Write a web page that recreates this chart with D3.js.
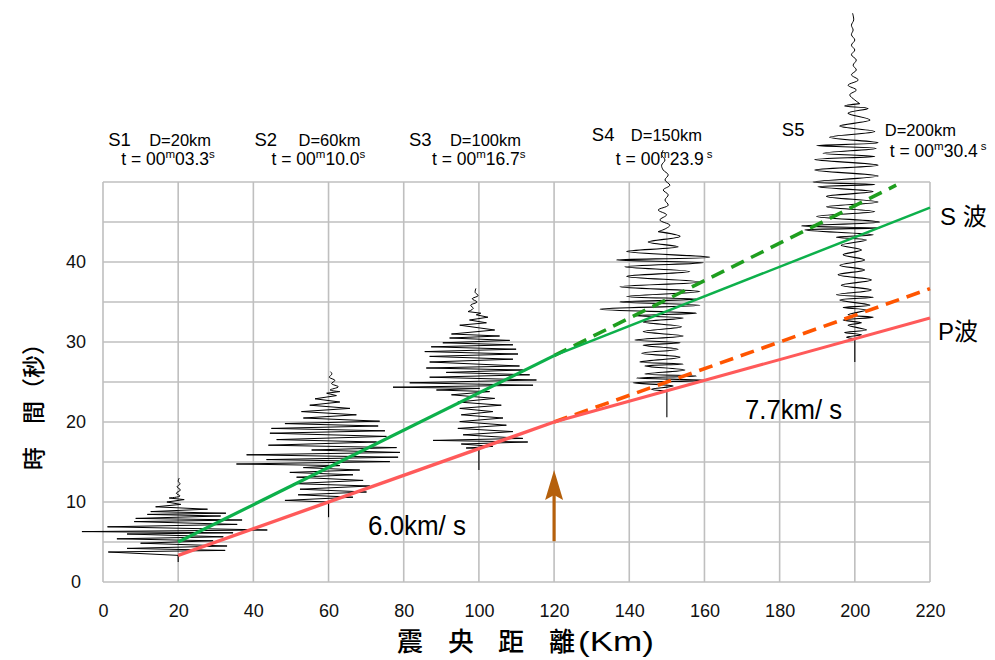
<!DOCTYPE html>
<html><head><meta charset="utf-8">
<script src="https://cdn.jsdelivr.net/npm/d3@7/dist/d3.min.js"></script>
<style>body{margin:0;background:#fff;}svg{display:block;}</style>
</head><body><svg id="c" width="995" height="660"></svg>
<script>
// ---------------- data ----------------
const xTicks = [0,20,40,60,80,100,120,140,160,180,200,220];
const yTicks = [0,10,20,30,40];
const stations = ["S1","S2","S3","S4","S5"];
const distances = [20,60,100,150,200];
const distLabels = ["D=20km","D=60km","D=100km","D=150km","D=200km"];
const arrivalLabels = ["03.3","10.0","16.7","23.9","30.4"];
const pArrival = [3.33,10.0,16.7,23.9,30.4];
const tailStart = [2.5,8.1,14.0,20.6,27.5];

const pDirect    = [[20,3.33],[120,20.0]];
const pDirectExt = [[120,20.0],[220,36.67]];
const pRefract   = [[120,20.0],[220,33.0]];
const sDirect    = [[20,5.0],[120,28.3]];
const sDirectExt = [[120,28.3],[211,49.6]];
const sRefract   = [[120,28.3],[220,46.8]];
const arrowPos   = [120,5.1,14.0];

// seismogram peaks: [time s, horizontal offset km]
const s1Peaks = [[3.75,-18.6],[3.95,12.5],[4.2,-13.6],[4.5,13],[4.85,-10],[5.15,9.3],[5.4,-16.3],[5.65,12],[6.0,-13.6],[6.15,14.6],[6.3,-25.6],[6.5,23.7],[6.9,-18.8],[7.2,15.7],[7.55,-11.7],[7.75,17],[7.95,-11.3],[8.25,11.3],[8.45,-8.2],[8.6,12.7],[8.8,-7.3],[9.1,7.8],[9.4,-6],[9.7,0.7],[10.0,-3],[10.3,1.6],[10.5,-2.4]];
const s1Coda = [[10.75,0.5],[11.1,-0.5],[11.5,0.6],[11.9,-0.3],[12.25,0.5],[12.6,0],[13.0,0.3]];

const s2Peaks = [[10.2,-11.6],[10.6,6.5],[10.9,-8.1],[11.25,10.1],[11.6,-7.6],[12.0,11.0],[12.3,-9.4],[12.7,9.2],[13.1,-8.5],[13.4,6.5],[13.7,-10.3],[14.0,8.3],[14.3,-6.7],[14.55,3.0],[14.75,-24.5],[15.05,16.3],[15.3,-16.5],[15.6,18.5],[15.9,-21.8],[16.2,19.0],[16.5,-4.5],[16.8,18.1],[17.1,-16.0],[17.5,12.8],[17.8,-13.8],[18.2,15.4],[18.6,-15.6],[18.9,15.0],[19.2,-15.2],[19.5,13.2],[19.8,-11.6],[20.1,13.6],[20.5,-6.7],[20.9,7.4],[21.3,-7.2],[21.7,5.7],[22.1,-5.0],[22.5,3.0],[22.9,-3.6],[23.3,2.1],[23.6,-0.5],[23.8,3.0]];
const s2Coda = [[24.0,0.4],[24.4,2.6],[24.8,0.8],[25.2,1.7],[25.6,0.2],[26.0,0.9],[26.3,0.5]];

const s3Peaks = [[16.75,-3.4],[16.95,3.7],[17.25,-4.7],[17.5,13.0],[17.7,-12.2],[17.95,11.7],[18.4,-4.2],[18.8,9.05],[19.2,-5.6],[19.6,7.3],[20.05,-5.1],[20.5,6.4],[20.9,-4.7],[21.3,3.7],[21.7,-5.1],[22.1,5.95],[22.5,-5.6],[22.95,4.2],[23.4,-7.3],[23.8,2.85],[24.0,-11.3],[24.2,0.2],[24.35,-22.85],[24.6,14.4],[24.9,-18.4],[25.25,15.3],[25.6,-13.1],[25.9,13.5],[26.2,-8.7],[26.5,11.7],[26.75,-14.0],[27.0,10.8],[27.5,-13.1],[27.85,9.05],[28.2,-13.1],[28.5,10.4],[28.8,-14.4],[29.1,9.9],[29.4,-12.7],[29.65,9.05],[29.9,-9.6],[30.2,8.2],[30.5,-7.8],[30.75,5.5],[31.0,-7.3],[31.5,4.2],[32.1,-5.1],[32.4,2.0],[32.75,-2.5],[33.1,2.4],[33.4,-0.7],[33.6,0.5],[33.8,-2.9]];
const s3Coda = [[34.2,-1.5],[34.6,-2.2],[35.0,-0.5],[35.4,-1.8],[35.8,-0.2],[36.2,-1.0],[36.7,-0.8]];

const s4Peaks = [[24.1,-4.1],[24.5,1.7],[24.9,-8.95],[25.2,10.1],[25.5,-8.1],[25.75,7.9],[26.0,-5.85],[26.5,4.8],[27.0,-5.85],[27.25,4.35],[27.5,-7.2],[28.1,3.5],[28.6,-6.7],[29.1,3.0],[29.6,-6.3],[29.9,3.5],[30.25,-8.5],[30.75,4.35],[31.3,-6.3],[31.9,3.9],[32.5,-6.3],[33.0,4.35],[33.3,-8.95],[33.6,7.9],[34.1,-17.8],[34.6,8.8],[35.0,-12.5],[35.35,7.9],[35.7,-10.7],[36.3,8.8],[36.9,-12.5],[37.5,8.8],[38.2,-10.7],[38.8,6.1],[39.4,-11.2],[39.9,9.7],[40.25,-13.4],[40.6,11.4],[41.3,-10.7],[41.9,3.0],[42.5,-4.96],[43.2,3.5],[43.8,-2.3]];
const s4Coda = [[44.2,-0.2],[44.6,0.8],[45.25,-1.86],[45.9,-0.08],[46.5,-2.3],[47.1,0.36],[47.75,-0.5],[48.4,0.36],[49.0,-0.97],[49.6,0.8],[50.25,-0.5],[50.9,0.36],[51.5,-0.97],[52.1,-1.4],[52.75,-0.5],[53.4,-1.4],[54.0,-0.97]];

const s5Peaks = [[30.6,-2.2],[30.9,1.75],[31.2,-2.7],[31.5,3.1],[32.1,-1.8],[32.4,1.75],[32.75,-3.1],[33.1,4.9],[33.4,-1.8],[34.0,3.1],[34.3,-3.1],[34.6,4.0],[35.25,-4.0],[35.6,4.9],[35.9,-4.9],[36.5,4.4],[37.1,-3.6],[37.75,4.4],[38.4,-4.46],[39.0,2.6],[39.6,-4.0],[40.25,2.6],[40.9,-3.1],[41.5,1.75],[42.1,-3.6],[42.75,3.1],[43.1,-4.9],[43.4,4.9],[44.0,-13.3],[44.25,6.6],[44.5,-14.2],[45.0,6.6],[45.7,-10.2],[46.3,5.3],[46.9,-7.56],[47.5,6.2],[48.2,-7.56],[48.8,4.9],[49.4,-9.8],[49.7,5.3],[50.0,-11.1],[50.75,6.2],[51.5,-10.7],[52.1,6.2],[52.8,-10.7],[53.2,5.3],[53.6,-8.45],[54.2,5.7],[54.55,-10.2],[54.9,6.2],[55.6,-6.7],[56.3,5.3],[57.0,-4.0],[57.75,4.0],[58.6,-1.8],[59.2,3.5],[59.5,-2.7],[59.8,1.3]];
const s5Coda = [[60.25,0],[60.9,-1.35],[61.5,0.4],[62.1,-1.8],[62.75,0.9],[63.4,-0.9],[64.0,0.4],[64.6,-0.45],[65.25,0.4],[65.9,-0.9],[66.5,0],[67.1,-0.9],[67.75,0],[68.4,-0.9],[69.0,-0.45],[69.6,-0.9],[70.25,-0.3],[71.1,-0.6]];

const peaks = [s1Peaks,s2Peaks,s3Peaks,s4Peaks,s5Peaks];
const codas = [s1Coda,s2Coda,s3Coda,s4Coda,s5Coda];
const smoothTrace = [false,false,false,true,true];

// ---------------- drawing ----------------
const svg = d3.select("#c");
const m = {l:103, r:930, t:182, b:582};
const x = d3.scaleLinear().domain([0,220]).range([m.l,m.r]);
const y = d3.scaleLinear().domain([0,50]).range([m.b,m.t]);
const latin = "'Liberation Sans', Arial, sans-serif";
const cjk = "'Liberation Sans','Noto Sans CJK TC','Noto Sans CJK JP',sans-serif";
const cjkOnly = "'Noto Sans CJK TC','Noto Sans CJK JP',sans-serif";

// grid
const grid = svg.append("g").attr("stroke","#bfbfbf").attr("stroke-width",1.6);
grid.selectAll("line.v").data(xTicks).join("line").attr("class","v")
  .attr("x1",d=>x(d)).attr("x2",d=>x(d)).attr("y1",y(0)).attr("y2",y(50));
grid.selectAll("line.h").data(d3.range(0,51,5)).join("line").attr("class","h")
  .attr("y1",d=>y(d)).attr("y2",d=>y(d)).attr("x1",x(0)).attr("x2",x(220));

// axes tick labels
const xAxis = d3.axisBottom(x).tickValues(xTicks).tickSize(0).tickPadding(22);
const gx = svg.append("g").attr("transform",`translate(0,${y(0)})`).call(xAxis);
gx.select(".domain").remove();
gx.selectAll("text").attr("font-family",latin).attr("font-size",18).attr("fill","#111");
const yAxis = d3.axisLeft(y).tickValues(yTicks).tickSize(0).tickPadding(27);
const gy = svg.append("g").attr("transform",`translate(${x(0)},0)`).call(yAxis);
gy.select(".domain").remove();
gy.selectAll("text").attr("font-family",latin).attr("font-size",18).attr("fill","#111")
  .attr("text-anchor","middle");

// seismograms
const traces = svg.append("g").attr("fill","none").attr("stroke","#000");
stations.forEach((s,i)=>{
  const D = distances[i];
  const lin = d3.line().x(p=>x(D+p[1])).y(p=>y(p[0]));
  traces.append("line").attr("x1",x(D)).attr("x2",x(D))
    .attr("y1",y(tailStart[i])).attr("y2",y(pArrival[i])).attr("stroke-width",1.1);
  const body = [[pArrival[i],0]].concat(peaks[i]);
  if (smoothTrace[i]) {
    traces.append("line").attr("x1",x(D)).attr("x2",x(D))
      .attr("y1",y(pArrival[i])).attr("y2",y(body[body.length-1][0]))
      .attr("stroke","#777").attr("stroke-width",0.6);
  }
  traces.append("path").attr("stroke-width",smoothTrace[i]?1.15:1.0)
    .attr("stroke-linejoin","round")
    .attr("d", lin.curve(smoothTrace[i]? d3.curveCatmullRom.alpha(0.5) : d3.curveLinear)(body));
  const coda = [peaks[i][peaks[i].length-1]].concat(codas[i]);
  traces.append("path").attr("stroke-width",1.0)
    .attr("d", d3.line().x(p=>x(D+p[1])).y(p=>y(p[0])).curve(d3.curveCatmullRom.alpha(0.5))(coda));
});

// travel-time lines
const tl = d3.line().x(p=>x(p[0])).y(p=>y(p[1]));
const lines = svg.append("g").attr("fill","none");
lines.append("path").attr("d",tl(sDirectExt)).attr("stroke","#1f9e1f").attr("stroke-width",3.6).attr("stroke-dasharray","14,8");
lines.append("path").attr("d",tl(pDirectExt)).attr("stroke","#ff5500").attr("stroke-width",3.6).attr("stroke-dasharray","14,8");
lines.append("path").attr("d",tl(sDirect)).attr("stroke","#0db04b").attr("stroke-width",3.2);
lines.append("path").attr("d",tl(sRefract)).attr("stroke","#0db04b").attr("stroke-width",2.5);
lines.append("path").attr("d",tl(pDirect)).attr("stroke","#ff5a5a").attr("stroke-width",3.4);
lines.append("path").attr("d",tl(pRefract)).attr("stroke","#ff5a5a").attr("stroke-width",3.0);

// arrow
const ax = x(arrowPos[0]);
svg.append("line").attr("x1",ax).attr("x2",ax).attr("y1",y(arrowPos[1])).attr("y2",y(arrowPos[2])+22)
  .attr("stroke","#b5600c").attr("stroke-width",3.2);
svg.append("path").attr("fill","#b5600c")
  .attr("d",`M${ax},${y(arrowPos[2])} L${ax+9},${y(arrowPos[2])+30} L${ax},${y(arrowPos[2])+25} L${ax-9},${y(arrowPos[2])+30} Z`);

// header labels
const sDx=[-70,-74,-70,-75,-73], dDx=[-29,-30,-29,-36,30], tDx=[-57,-57,-47,-51,35];
const sY=[146,146,146,141,136], tY=[165,165,165,165,157];
const hdr = svg.append("g").attr("font-family",latin).attr("fill","#000");
stations.forEach((s,i)=>{
  const cx = x(distances[i]);
  hdr.append("text").attr("x",cx+sDx[i]).attr("y",sY[i]).attr("font-size",18.5).text(s);
  hdr.append("text").attr("x",cx+dDx[i]).attr("y",sY[i]).attr("font-size",16.5).text(distLabels[i]);
  const t = hdr.append("text").attr("x",cx+tDx[i]).attr("y",tY[i]).attr("font-size",17.5);
  t.append("tspan").text("t = 00");
  t.append("tspan").attr("font-size",11.5).attr("dy",-7).text("m");
  t.append("tspan").attr("dy",7).text(arrivalLabels[i]);
  t.append("tspan").attr("font-size",11.5).attr("dy",-7).attr("dx",i>=3?3:0).text("s");
});

// velocity labels
svg.append("text").attr("x",368).attr("y",535).attr("font-family",latin).attr("font-size",27)
  .attr("textLength",98).attr("lengthAdjust","spacingAndGlyphs").text("6.0km/ s");
svg.append("text").attr("x",745).attr("y",419).attr("font-family",latin).attr("font-size",27)
  .attr("textLength",97).attr("lengthAdjust","spacingAndGlyphs").text("7.7km/ s");

// wave labels
svg.append("text").attr("x",940).attr("y",225).attr("font-family",cjk).attr("font-size",24).text("S 波");
svg.append("text").attr("x",938).attr("y",340).attr("font-family",cjk).attr("font-size",24).text("P波");

// axis titles
svg.append("text").attr("transform","translate(42,401) rotate(-90)").attr("text-anchor","middle")
  .attr("font-family",cjkOnly).attr("font-size",23).attr("font-weight",500)
  .text("時　間（秒）");
const xt = svg.append("text").attr("y",651).attr("font-family",cjkOnly)
  .attr("font-size",26).attr("font-weight",500);
[["震",397],["央",448],["距",498],["離",549]].forEach(([c,px])=>xt.append("tspan").attr("x",px).text(c));
xt.append("tspan").attr("x",578).attr("font-family",latin).attr("font-size",27)
  .attr("textLength",76).attr("lengthAdjust","spacingAndGlyphs").text("(Km)");
</script></body></html>
